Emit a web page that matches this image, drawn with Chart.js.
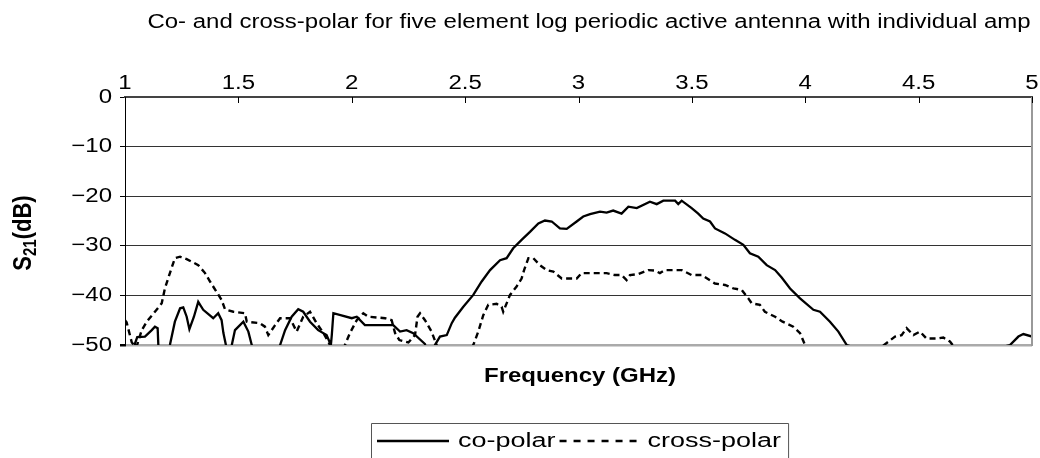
<!DOCTYPE html>
<html>
<head>
<meta charset="utf-8">
<script src="https://cdn.jsdelivr.net/npm/chart.js@4.4.1/dist/chart.umd.min.js"></script>
<style>
	html, body { margin: 0; padding: 0; background: #fff; }
	#wrap { width: 1040px; height: 458px; }
</style>
</head>
<body>
<div id="wrap"><canvas id="chart" width="1040" height="458"></canvas></div>
<script>
// Frequency ticks (GHz) and S21 ticks (dB)
const xTicks = [1, 1.5, 2, 2.5, 3, 3.5, 4, 4.5, 5];
const yTicks = [0, -10, -20, -30, -40, -50];

// co-polar (values under -50 are off the plot)
const coFreq = [
	1.0, 1.03, 1.044, 1.054, 1.088, 1.118, 1.132, 1.144, 1.147, 1.17, 1.198,
	1.22, 1.243, 1.257, 1.272, 1.284, 1.304, 1.323, 1.345, 1.389, 1.411, 1.426,
	1.434, 1.445, 1.458, 1.471, 1.485, 1.522, 1.544, 1.559, 1.62, 1.684, 1.706,
	1.735, 1.764, 1.786, 1.816, 1.852, 1.889, 1.908, 1.912, 1.919, 2.0, 2.022,
	2.058, 2.147, 2.183, 2.213, 2.242, 2.271, 2.323, 2.345, 2.367, 2.389, 2.419,
	2.441, 2.455, 2.492, 2.536, 2.573, 2.61, 2.654, 2.683, 2.712, 2.749, 2.786,
	2.823, 2.852, 2.882, 2.918, 2.948, 2.992, 3.021, 3.051, 3.095, 3.124, 3.153,
	3.19, 3.22, 3.257, 3.315, 3.345, 3.374, 3.426, 3.44, 3.455, 3.499, 3.528,
	3.55, 3.58, 3.602, 3.646, 3.69, 3.727, 3.756, 3.793, 3.83, 3.867, 3.896,
	3.933, 3.977, 4.036, 4.065, 4.109, 4.146, 4.183, 4.5, 4.903, 4.94, 4.962,
	5.0,
];
const coS21 = [
	-55, -55, -49.7, -48.4, -48.3, -47, -46.3, -46.6, -50, -55, -50,
	-45.3, -42.6, -42.4, -44.3, -46.8, -44.3, -41.3, -42.9, -44.6, -43.6, -45,
	-47.6, -50, -55, -50, -47, -45.3, -47.3, -50, -55, -50, -47,
	-44.3, -42.8, -43.3, -45.3, -47, -48, -50, -48, -43.6, -44.6, -44.3,
	-46, -46, -46, -47.3, -47, -47.6, -49.8, -55, -50, -48.3, -48,
	-45.6, -44.5, -42.3, -39.9, -37.2, -34.9, -32.9, -32.5, -30.5, -28.8, -27.2,
	-25.5, -24.9, -25.1, -26.5, -26.6, -25.1, -24.1, -23.6, -23.1, -23.3, -22.9,
	-23.5, -22.1, -22.4, -21.1, -21.6, -20.9, -20.9, -21.6, -20.9, -22.4, -23.5,
	-24.5, -25.1, -26.5, -27.5, -28.8, -29.8, -31.5, -32.2, -33.9, -34.9, -36.4,
	-38.6, -40.6, -42.9, -43.3, -45.3, -47.3, -50, -55, -50, -48.3, -47.8,
	-48.3,
];

// cross-polar
const crossFreq = [
	1.0, 1.007, 1.03, 1.05, 1.074, 1.096, 1.132, 1.162, 1.176, 1.198, 1.22,
	1.243, 1.272, 1.294, 1.323, 1.353, 1.375, 1.404, 1.426, 1.441, 1.478, 1.529,
	1.537, 1.595, 1.617, 1.632, 1.662, 1.684, 1.713, 1.728, 1.757, 1.786, 1.816,
	1.845, 1.875, 1.904, 1.94, 1.97, 1.992, 2.022, 2.051, 2.073, 2.147, 2.176,
	2.191, 2.21, 2.25, 2.279, 2.29, 2.301, 2.323, 2.352, 2.374, 2.45, 2.536,
	2.558, 2.58, 2.602, 2.639, 2.661, 2.668, 2.698, 2.727, 2.749, 2.76, 2.779,
	2.801, 2.83, 2.86, 2.889, 2.926, 2.992, 3.014, 3.124, 3.161, 3.19, 3.212,
	3.227, 3.264, 3.308, 3.337, 3.359, 3.381, 3.455, 3.499, 3.543, 3.602, 3.646,
	3.683, 3.72, 3.749, 3.764, 3.8, 3.822, 3.867, 3.9, 3.947, 3.977, 3.999,
	4.2, 4.359, 4.396, 4.425, 4.447, 4.477, 4.506, 4.535, 4.58, 4.609, 4.638,
	4.65, 4.8, 5.0,
];
const crossS21 = [
	-45, -45.4, -49.5, -50.5, -47, -45.3, -43.3, -41.6, -38.6, -35.5, -32.5,
	-32.2, -32.7, -33.2, -33.9, -35.5, -37.2, -39.3, -40.9, -42.8, -43.3, -43.6,
	-45.3, -45.6, -46.3, -48, -46, -44.6, -44.6, -44.6, -47.3, -44.3, -43.3,
	-45.6, -47.6, -50, -55, -50, -47.6, -45, -43.6, -44.3, -44.6, -45,
	-47.6, -49, -49.5, -48, -44.3, -43.6, -45, -47.3, -50, -55, -50,
	-47.3, -44, -41.9, -41.7, -42.3, -43.3, -39.9, -38.2, -36.6, -34.9, -32.5,
	-32.5, -33.9, -34.9, -35.2, -36.6, -36.6, -35.5, -35.5, -35.9, -35.9, -36.9,
	-35.9, -35.7, -34.9, -35, -35.5, -34.9, -34.9, -35.9, -35.9, -37.6, -37.9,
	-38.6, -38.9, -40.6, -41.6, -41.9, -43.3, -44.3, -45.3, -46.3, -47.6, -50,
	-55, -49.6, -48.3, -48, -46.6, -48, -47.3, -48.7, -48.7, -48.5, -49.3,
	-50, -55, -55,
];

const seriesNames = ["co-polar", "cross-polar"];
const chartTitle = "Co- and cross-polar for five element log periodic active antenna with individual amp";

const FONT = "'Liberation Sans', Arial, sans-serif";
const SX = 1.2; // text in the reference is a bit wide

function pairs(xs, ys) {
	return xs.map((x, i) => ({ x: x, y: ys[i] }));
}

function wideText(ctx, str, x, y, align, font, sx) {
	ctx.save();
	ctx.font = font;
	ctx.translate(x, y);
	ctx.scale(sx || SX, 1);
	ctx.textAlign = align;
	ctx.textBaseline = "middle";
	ctx.fillText(str, 0, 0);
	ctx.restore();
}

// draws texts, inner x ticks, right border and the legend box
const decorPlugin = {
	id: "decor",
	afterDraw(chart) {
		const ctx = chart.ctx;
		const area = chart.chartArea;
		const xs = chart.scales.x;
		const ys = chart.scales.y;
		ctx.save();
		ctx.fillStyle = "#000";

		// right border of the plot
		ctx.strokeStyle = "#999";
		ctx.lineWidth = 2;
		ctx.beginPath();
		ctx.moveTo(area.right, area.top);
		ctx.lineTo(area.right, area.bottom + 1);
		ctx.stroke();

		// x tick marks pointing into the plot
		ctx.strokeStyle = "#000";
		ctx.lineWidth = 1;
		xTicks.forEach((v) => {
			const px = Math.round(xs.getPixelForValue(v)) + 0.5;
			ctx.beginPath();
			ctx.moveTo(px, area.top);
			ctx.lineTo(px, area.top + 6);
			ctx.stroke();
		});

		// title
		wideText(ctx, chartTitle, 589, 22, "center", "20px " + FONT);

		// x tick labels (top)
		xTicks.forEach((v) => {
			wideText(ctx, String(v), xs.getPixelForValue(v), 83, "center", "20px " + FONT);
		});
		// y tick labels
		yTicks.forEach((v) => {
			const s = v === 0 ? "0" : "\u2212" + Math.abs(v);
			wideText(ctx, s, 112, ys.getPixelForValue(v), "right", "20px " + FONT);
		});

		// x axis title
		wideText(ctx, "Frequency (GHz)", 580, 376, "center", "bold 20px " + FONT);

		// y axis title with subscript
		ctx.save();
		ctx.translate(24, 233);
		ctx.scale(SX, 1);
		ctx.rotate(-Math.PI / 2);
		ctx.textBaseline = "middle";
		ctx.textAlign = "left";
		const big = "bold 22px " + FONT;
		const small = "bold 15px " + FONT;
		ctx.font = big;
		const wS = ctx.measureText("S").width;
		const wP = ctx.measureText("(dB)").width;
		ctx.font = small;
		const wN = ctx.measureText("21").width;
		let x0 = -(wS + wN + wP) / 2;
		ctx.font = big;
		ctx.fillText("S", x0, 0);
		ctx.font = small;
		ctx.fillText("21", x0 + wS, 6);
		ctx.font = big;
		ctx.fillText("(dB)", x0 + wS + wN, 0);
		ctx.restore();

		// legend
		const lf = "20px " + FONT;
		const lsx = 1.35;
		const ly = 441;
		let lx = 371;
		ctx.font = lf;
		const w1 = ctx.measureText(seriesNames[0]).width * lsx;
		const w2 = ctx.measureText(seriesNames[1]).width * lsx;
		const sample = 72;
		const boxW = 6 + sample + 9 + w1 + 4 + 81 + 7 + w2 + 7;
		ctx.strokeStyle = "#555";
		ctx.lineWidth = 1;
		ctx.beginPath();
		ctx.moveTo(lx + 0.5, 470);
		ctx.lineTo(lx + 0.5, 423.5);
		ctx.lineTo(lx + boxW + 0.5, 423.5);
		ctx.lineTo(lx + boxW + 0.5, 470);
		ctx.stroke();

		ctx.strokeStyle = "#000";
		ctx.lineWidth = 2.5;
		let cx = lx + 6;
		ctx.beginPath();
		ctx.moveTo(cx, ly);
		ctx.lineTo(cx + sample, ly);
		ctx.stroke();
		cx += sample + 9;
		wideText(ctx, seriesNames[0], cx, ly, "left", lf, lsx);
		cx += w1 + 4;
		ctx.setLineDash([7, 7]);
		ctx.beginPath();
		ctx.moveTo(cx, ly);
		ctx.lineTo(cx + 81, ly);
		ctx.stroke();
		ctx.setLineDash([]);
		cx += 81 + 7;
		wideText(ctx, seriesNames[1], cx, ly, "left", lf, lsx);

		ctx.restore();
	},
};

const ctx = document.getElementById("chart").getContext("2d");

new Chart(ctx, {
	type: "line",
	data: {
		datasets: [
			{
				label: seriesNames[0],
				data: pairs(coFreq, coS21),
				borderColor: "#000",
				borderWidth: 2.3,
				pointRadius: 0,
				tension: 0,
				fill: false,
				clip: 0,
			},
			{
				label: seriesNames[1],
				data: pairs(crossFreq, crossS21),
				borderColor: "#000",
				borderWidth: 2.4,
				borderDash: [6, 4],
				pointRadius: 0,
				tension: 0,
				fill: false,
				clip: 0,
			},
		],
	},
	options: {
		responsive: false,
		animation: false,
		events: [],
		layout: { padding: { left: 0, right: 8, top: 0, bottom: 113 } },
		plugins: {
			legend: { display: false },
			title: { display: false },
			tooltip: { enabled: false },
		},
		scales: {
			x: {
				type: "linear",
				position: "top",
				min: 1,
				max: 5,
				ticks: { display: false, stepSize: 0.5 },
				grid: { drawOnChartArea: false, drawTicks: false },
				border: { display: true, color: "#444", width: 2 },
				afterFit: (s) => {
					s.height = 97;
				},
			},
			y: {
				type: "linear",
				min: -50,
				max: 0,
				ticks: { display: false, stepSize: 10 },
				grid: {
					color: (c) => (c.tick && c.tick.value === -50 ? "#aaa" : "#333"),
					lineWidth: (c) => (c.tick && c.tick.value === -50 ? 2.5 : 1),
					tickLength: 5,
					tickColor: "#000",
				},
				border: { display: true, color: "#000", width: 1 },
				afterFit: (s) => {
					s.width = 125;
				},
			},
		},
	},
	plugins: [decorPlugin],
});
</script>
</body>
</html>
